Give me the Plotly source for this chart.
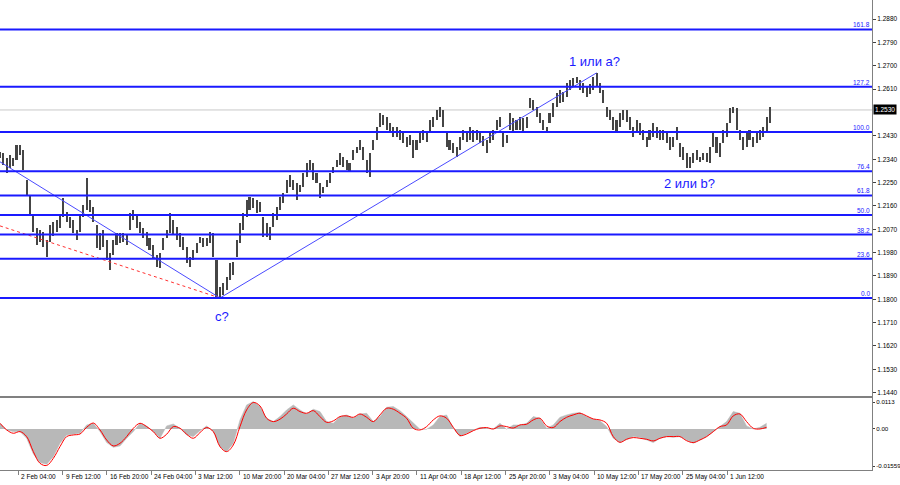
import plotly.graph_objects as go

# ---------------- data ----------------
highs = [
    1.2368, 1.2364, 1.2345, 1.2357, 1.2345, 1.2395, 1.2395, 1.2376, 1.2260, 1.2202,
    1.2125, 1.2075, 1.2067, 1.2060, 1.2029, 1.2087, 1.2098, 1.2106, 1.2129, 1.2191,
    1.2137, 1.2117, 1.2106, 1.2067, 1.2125, 1.2164, 1.2268, 1.2183, 1.2156, 1.2087,
    1.2056, 1.2067, 1.2029, 1.1979, 1.2029, 1.2056, 1.2056, 1.2056, 1.2052, 1.2133,
    1.2144, 1.2121, 1.2098, 1.2075, 1.2060, 1.2037, 1.2010, 1.1971, 1.1979, 1.2037,
    1.2067, 1.2133, 1.2106, 1.2079, 1.2056, 1.2040, 1.2002, 1.1963, 1.1990, 1.2017,
    1.2040, 1.2037, 1.2037, 1.2060, 1.2056, 1.1952, 1.1847, 1.1863, 1.1886, 1.1940,
    1.1944, 1.2029, 1.2094, 1.2133, 1.2183, 1.2195, 1.2191, 1.2183, 1.2175, 1.2117,
    1.2094, 1.2079, 1.2133, 1.2156, 1.2195, 1.2210, 1.2260, 1.2280, 1.2260, 1.2249,
    1.2241, 1.2287, 1.2326, 1.2337, 1.2326, 1.2287, 1.2249, 1.2233, 1.2260, 1.2287,
    1.2310, 1.2337, 1.2364, 1.2349, 1.2337, 1.2326, 1.2376, 1.2387, 1.2414, 1.2387,
    1.2337, 1.2364, 1.2414, 1.2465, 1.2519, 1.2511, 1.2503, 1.2480, 1.2465, 1.2465,
    1.2453, 1.2441, 1.2426, 1.2434, 1.2414, 1.2414, 1.2441, 1.2453, 1.2445, 1.2492,
    1.2503, 1.2530, 1.2542, 1.2530, 1.2441, 1.2414, 1.2403, 1.2387, 1.2426, 1.2453,
    1.2445, 1.2465, 1.2453, 1.2453, 1.2441, 1.2430, 1.2414, 1.2441, 1.2453, 1.2492,
    1.2503, 1.2441, 1.2434, 1.2519, 1.2499, 1.2492, 1.2503, 1.2499, 1.2503, 1.2576,
    1.2569, 1.2542, 1.2519, 1.2492, 1.2465, 1.2519, 1.2557, 1.2596, 1.2607, 1.2600,
    1.2634, 1.2646, 1.2654, 1.2657, 1.2646, 1.2634, 1.2619, 1.2630, 1.2657, 1.2673,
    1.2634, 1.2607, 1.2542, 1.2530, 1.2503, 1.2492, 1.2519, 1.2530, 1.2530, 1.2503,
    1.2465, 1.2492, 1.2480, 1.2453, 1.2426, 1.2453, 1.2480, 1.2465, 1.2453, 1.2453,
    1.2441, 1.2426, 1.2426, 1.2465, 1.2403, 1.2387, 1.2364, 1.2349, 1.2364, 1.2376,
    1.2349, 1.2364, 1.2364, 1.2387, 1.2441, 1.2426, 1.2403, 1.2453, 1.2480, 1.2538,
    1.2542, 1.2538, 1.2453, 1.2426, 1.2441, 1.2453, 1.2426, 1.2441, 1.2453, 1.2465,
    1.2503, 1.2542,
]
lows = [
    1.2345, 1.2318, 1.2287, 1.2306, 1.2314, 1.2337, 1.2357, 1.2299, 1.2202, 1.2125,
    1.2060, 1.2010, 1.2021, 1.2002, 1.1963, 1.2021, 1.2044, 1.2060, 1.2075, 1.2117,
    1.2098, 1.2075, 1.2056, 1.2029, 1.2060, 1.2117, 1.2144, 1.2137, 1.2098, 1.1998,
    1.1990, 1.2002, 1.1952, 1.1913, 1.1971, 1.2010, 1.2017, 1.2021, 1.2010, 1.2067,
    1.2106, 1.2075, 1.2056, 1.2037, 1.2006, 1.1990, 1.1960, 1.1925, 1.1921, 1.1990,
    1.2037, 1.2056, 1.2048, 1.2029, 1.2002, 1.1990, 1.1940, 1.1925, 1.1952, 1.1979,
    1.2017, 1.2002, 1.2006, 1.2017, 1.1963, 1.1809, 1.1805, 1.1817, 1.1836, 1.1874,
    1.1894, 1.1963, 1.2017, 1.2067, 1.2117, 1.2144, 1.2152, 1.2133, 1.2137, 1.2040,
    1.2040, 1.2029, 1.2079, 1.2106, 1.2144, 1.2172, 1.2210, 1.2233, 1.2222, 1.2183,
    1.2214, 1.2233, 1.2272, 1.2299, 1.2260, 1.2249, 1.2191, 1.2210, 1.2233, 1.2249,
    1.2287, 1.2310, 1.2318, 1.2310, 1.2299, 1.2291, 1.2337, 1.2364, 1.2376, 1.2337,
    1.2287, 1.2272, 1.2376, 1.2414, 1.2465, 1.2472, 1.2453, 1.2441, 1.2426, 1.2426,
    1.2414, 1.2403, 1.2387, 1.2395, 1.2345, 1.2376, 1.2403, 1.2414, 1.2407, 1.2441,
    1.2465, 1.2492, 1.2503, 1.2465, 1.2387, 1.2376, 1.2364, 1.2349, 1.2376, 1.2414,
    1.2407, 1.2414, 1.2407, 1.2414, 1.2403, 1.2391, 1.2364, 1.2403, 1.2414, 1.2453,
    1.2465, 1.2387, 1.2403, 1.2453, 1.2445, 1.2453, 1.2453, 1.2445, 1.2461, 1.2538,
    1.2530, 1.2503, 1.2480, 1.2453, 1.2441, 1.2480, 1.2503, 1.2542, 1.2557, 1.2561,
    1.2580, 1.2607, 1.2619, 1.2634, 1.2607, 1.2596, 1.2580, 1.2592, 1.2607, 1.2619,
    1.2596, 1.2557, 1.2503, 1.2492, 1.2453, 1.2445, 1.2465, 1.2492, 1.2484, 1.2453,
    1.2426, 1.2441, 1.2434, 1.2414, 1.2387, 1.2414, 1.2426, 1.2422, 1.2414, 1.2414,
    1.2403, 1.2376, 1.2387, 1.2414, 1.2349, 1.2337, 1.2306, 1.2306, 1.2326, 1.2337,
    1.2330, 1.2337, 1.2330, 1.2326, 1.2387, 1.2364, 1.2349, 1.2403, 1.2426, 1.2480,
    1.2519, 1.2453, 1.2414, 1.2376, 1.2387, 1.2414, 1.2387, 1.2403, 1.2414, 1.2426,
    1.2441, 1.2480,
]
bar_idx = list(range(len(highs)))

# oscillator (sampled every second bar)
osc_idx = list(range(0, 232, 2))
osc_hist = [
    0.0024, -0.0004, -0.0011, -0.0011, -0.0039, -0.0105, -0.0141, -0.0148, -0.0116, -0.0060,
    -0.0025, -0.0021, -0.0018, 0.0017, 0.0024, -0.0011, -0.0057, -0.0077, -0.0071, -0.0039,
    -0.0011, 0.0024, 0.0013, -0.0011, -0.0039, 0.0013, 0.0021, 0.0003, -0.0025, -0.0032,
    -0.0007, 0.0013, -0.0011, -0.0074, -0.0095, -0.0060, 0.0038, 0.0101, 0.0115, 0.0094,
    0.0045, 0.0031, 0.0052, 0.0080, 0.0101, 0.0080, 0.0063, 0.0083, 0.0073, 0.0031,
    0.0024, 0.0052, 0.0059, 0.0045, 0.0063, 0.0066, 0.0031, 0.0052, 0.0091, 0.0094,
    0.0077, 0.0052, 0.0024, -0.0001, -0.0001, 0.0017, 0.0052, 0.0059, 0.0003, -0.0032,
    -0.0018, -0.0004, 0.0007, 0.0003, 0.0000, 0.0024, -0.0001, 0.0017, 0.0017, 0.0024,
    0.0052, 0.0045, 0.0003, 0.0017, 0.0049, 0.0059, 0.0066, 0.0069, 0.0052, 0.0041,
    0.0035, 0.0010, -0.0039, -0.0057, -0.0043, -0.0032, -0.0035, -0.0046, -0.0057, -0.0039,
    -0.0032, -0.0035, -0.0032, -0.0046, -0.0060, -0.0046, -0.0032, -0.0011, 0.0010, 0.0031,
    0.0073, 0.0066, 0.0013, 0.0000, 0.0007, 0.0024,
]
osc_signal = [
    0.0024, -0.0004, -0.0018, -0.0011, -0.0032, -0.0095, -0.0144, -0.0153, -0.0123, -0.0074,
    -0.0032, -0.0025, -0.0021, 0.0007, 0.0025, -0.0004, -0.0046, -0.0071, -0.0060, -0.0032,
    0.0003, 0.0024, 0.0010, -0.0011, -0.0039, -0.0022, 0.0010, 0.0003, -0.0022, -0.0039,
    -0.0015, 0.0006, -0.0011, -0.0074, -0.0095, -0.0067, 0.0010, 0.0080, 0.0111, 0.0097,
    0.0045, 0.0031, 0.0041, 0.0063, 0.0087, 0.0073, 0.0066, 0.0077, 0.0052, 0.0028,
    0.0034, 0.0052, 0.0055, 0.0049, 0.0063, 0.0049, 0.0031, 0.0059, 0.0087, 0.0083,
    0.0066, 0.0045, 0.0003, -0.0004, 0.0010, 0.0038, 0.0055, 0.0045, 0.0007, -0.0027,
    -0.0021, -0.0007, 0.0003, 0.0006, 0.0000, 0.0013, 0.0010, 0.0004, 0.0017, 0.0020,
    0.0038, 0.0045, 0.0013, 0.0006, 0.0031, 0.0049, 0.0059, 0.0066, 0.0055, 0.0042,
    0.0038, 0.0024, -0.0032, -0.0056, -0.0043, -0.0036, -0.0039, -0.0043, -0.0050, -0.0039,
    -0.0032, -0.0032, -0.0032, -0.0049, -0.0057, -0.0046, -0.0032, -0.0011, 0.0010, 0.0017,
    0.0055, 0.0063, 0.0031, 0.0003, 0.0000, 0.0007,
]

price_ticks = [1.1440, 1.1530, 1.1620, 1.1710, 1.1800, 1.1890, 1.1980, 1.2070, 1.2160,
               1.2250, 1.2340, 1.2430, 1.2610, 1.2700, 1.2790, 1.2880]
current_price = 1.2530

fib_low, fib_high = 1.1805, 1.2445
fib_pcts = [0.0, 23.6, 38.2, 50.0, 61.8, 76.4, 100.0, 127.2, 161.8]

wave_x = [0, 66, 179]
wave_y = [1.2330, 1.1805, 1.2673]
red_x = [0, 66]
red_y = [1.2083, 1.1805]

date_labels = ["25 Jan 20:00", "2 Feb 04:00", "9 Feb 12:00", "16 Feb 20:00", "24 Feb 04:00",
               "3 Mar 12:00", "10 Mar 20:00", "20 Mar 04:00", "27 Mar 12:00", "3 Apr 20:00",
               "11 Apr 04:00", "18 Apr 12:00", "25 Apr 20:00", "3 May 04:00", "10 May 12:00",
               "17 May 20:00", "25 May 04:00", "1 Jun 12:00"]
date_label_bars = [-7.8 + 13.29 * k for k in range(len(date_labels))]

wave_labels = ["1 или a?", "2 или b?", "c?"]
wave_label_x = [178.5, 207, 66.5]
wave_label_y = [1.2716, 1.2245, 1.1735]

# ---------------- figure ----------------
BLUE = "#1a1aff"
FONT = "Liberation Sans"
W, H = 900, 485
ML, MR, MT, MB = 0, 28, 0, 15
PLOT_H = H - MT - MB

fig = go.Figure()

# price bars (high-low range)
fig.add_trace(go.Bar(
    x=bar_idx, y=[h - l for h, l in zip(highs, lows)], base=lows,
    width=0.6, marker=dict(color="#454545", line=dict(width=0)),
    xaxis="x", yaxis="y", hoverinfo="skip", showlegend=False))

# wave lines
fig.add_trace(go.Scatter(x=wave_x, y=wave_y, mode="lines",
                         line=dict(color="#4a4aff", width=1),
                         xaxis="x", yaxis="y", showlegend=False, hoverinfo="skip"))
fig.add_trace(go.Scatter(x=red_x, y=red_y, mode="lines",
                         line=dict(color="#ff3030", width=1, dash="dot"),
                         xaxis="x", yaxis="y", showlegend=False, hoverinfo="skip"))

# oscillator
fig.add_trace(go.Scatter(x=osc_idx, y=osc_hist, mode="lines", fill="tozeroy",
                         fillcolor="#b8b8b8", line=dict(color="#b8b8b8", width=0.5),
                         xaxis="x2", yaxis="y2", showlegend=False, hoverinfo="skip"))
fig.add_trace(go.Scatter(x=osc_idx, y=osc_signal, mode="lines",
                         line=dict(color="#ff0000", width=1, shape="spline"),
                         xaxis="x2", yaxis="y2", showlegend=False, hoverinfo="skip"))

shapes = []
annotations = []

# current price line
shapes.append(dict(type="line", xref="x domain", yref="y", x0=0, x1=1,
                   y0=current_price, y1=current_price,
                   line=dict(color="#c8c8c8", width=1), layer="below"))

# fibonacci levels
for pct in fib_pcts:
    lvl = fib_low + (fib_high - fib_low) * pct / 100.0
    shapes.append(dict(type="line", xref="x domain", yref="y", x0=0, x1=1,
                       y0=lvl, y1=lvl, line=dict(color=BLUE, width=2)))
    annotations.append(dict(xref="x domain", yref="y", x=1, y=lvl, text=f"{pct:.1f}",
                            showarrow=False, xanchor="right", yanchor="bottom",
                            yshift=-1, font=dict(family=FONT, size=6.5, color=BLUE)))

# current price tag
annotations.append(dict(xref="paper", yref="y", x=1, y=current_price, text="1.2530",
                        showarrow=False, xanchor="left", yanchor="middle", xshift=1,
                        bgcolor="#000000", borderpad=1,
                        font=dict(family=FONT, size=6.5, color="#ffffff")))

# wave labels
for t, xx, yy in zip(wave_labels, wave_label_x, wave_label_y):
    annotations.append(dict(xref="x", yref="y", x=xx, y=yy, text=t, showarrow=False,
                            xanchor="center", yanchor="middle",
                            font=dict(family=FONT, size=13, color=BLUE)))

# date labels
for t, b in zip(date_labels, date_label_bars):
    annotations.append(dict(xref="x2", yref="paper", x=b, y=0, text=t, showarrow=False,
                            xanchor="left", yanchor="top", xshift=1, yshift=-1,
                            font=dict(family=FONT, size=6.5, color="#000000")))

main_bottom = (PLOT_H - 396) / PLOT_H
osc_top = (PLOT_H - 398) / PLOT_H
x_range = [0, 872 / 3.333]

axis_common = dict(showgrid=False, zeroline=False, showline=True, linecolor="#808080",
                   linewidth=1, mirror=True, automargin=False)

fig.update_layout(
    width=W, height=H,
    margin=dict(l=ML, r=MR, t=MT, b=MB, autoexpand=False),
    paper_bgcolor="#ffffff", plot_bgcolor="#ffffff",
    showlegend=False, bargap=0,
    xaxis=dict(domain=[0, 1], anchor="y", range=x_range, showticklabels=False,
               ticks="", **axis_common),
    yaxis=dict(domain=[main_bottom, 1], anchor="x", side="right",
               range=[1.1427, 1.2954], tickvals=price_ticks,
               ticktext=[f"{p:.4f}" for p in price_ticks],
               ticks="outside", ticklen=3, tickcolor="#404040",
               tickfont=dict(family=FONT, size=6.5, color="#000000"), **axis_common),
    xaxis2=dict(domain=[0, 1], anchor="y2", range=x_range, showticklabels=False,
                ticks="outside", ticklen=4, tickcolor="#808080",
                tickvals=date_label_bars, **axis_common),
    yaxis2=dict(domain=[0, osc_top], anchor="x2", side="right",
                range=[-0.0172, 0.0130], tickvals=[0.0113, 0.0, -0.01559],
                ticktext=["0.0113", "0.00", "-0.01559"],
                ticks="outside", ticklen=2, tickcolor="#404040",
                tickfont=dict(family=FONT, size=6.2, color="#000000"), **axis_common),
    shapes=shapes,
    annotations=annotations,
)

fig.write_html("out.html", config={"displayModeBar": False},
               post_script="document.body.style.margin='0';document.body.style.overflow='hidden';")
